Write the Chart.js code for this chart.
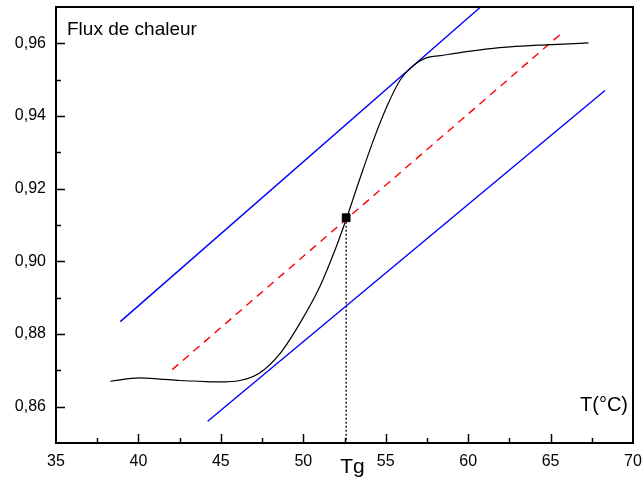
<!DOCTYPE html>
<html>
<head>
<meta charset="utf-8">
<title>DSC - Tg</title>
<script src="https://cdn.jsdelivr.net/npm/chart.js@4.4.0/dist/chart.umd.min.js"></script>
<style>
  body { margin: 0; background: #fff; }
</style>
</head>
<body>
<canvas id="dsc" width="644" height="480"></canvas>
<script>
// DSC curve around the glass transition
var tempC = [38.3, 40.1, 41.3, 42.5, 43.7, 44.9, 46.15, 47.35, 48.6, 49.8, 51.0, 52.0, 52.65, 53.4, 54.25, 55.05, 55.85, 56.65, 57.45, 58.3, 59.9, 61.9, 64.75, 67.3];
var heatFlow = [0.8670, 0.8679, 0.8676, 0.8672, 0.8670, 0.8668, 0.8672, 0.8693, 0.8747, 0.8830, 0.8930, 0.9040, 0.9122, 0.9223, 0.9333, 0.9424, 0.9497, 0.9538, 0.9560, 0.9566, 0.9577, 0.9588, 0.9596, 0.9601];

// tangent lines (start / end)
var upperX = [38.9, 60.7];
var upperY = [0.8834, 0.9698];
var lowerX = [44.2, 68.3];
var lowerY = [0.8560, 0.9470];
var midX = [42.05, 65.6];
var midY = [0.8702, 0.9625];

// glass transition point
var tgX = 52.6;
var tgY = 0.912;

var xMin = 35, xMax = 70, xStep = 2.5;
var yMin = 0.85, yMax = 0.97, yStep = 0.01;

var FONT = "'Liberation Sans', Arial, sans-serif";

function toPoints(xs, ys) {
    var pts = [];
    for (var i = 0; i < xs.length; i++) {
        pts.push({x: xs[i], y: ys[i]});
    }
    return pts;
}

// frame, inward ticks and the free text labels
var decorations = {
    id: 'decorations',
    beforeDatasetsDraw: function (chart) {
        var ctx = chart.ctx;
        var area = chart.chartArea;
        var sx = chart.scales.x;
        var sy = chart.scales.y;
        ctx.save();
        ctx.strokeStyle = '#000';
        ctx.lineWidth = 2;
        ctx.beginPath();
        ctx.moveTo(area.left, area.top);
        ctx.lineTo(area.right, area.top);
        ctx.lineTo(area.right, area.bottom);
        ctx.stroke();

        ctx.lineWidth = 1.5;
        ctx.beginPath();
        sx.ticks.forEach(function (t) {
            if (t.value <= xMin || t.value >= xMax) return;
            var px = Math.round(sx.getPixelForValue(t.value)) + 0.5;
            var len = (t.value % 5 === 0) ? 9 : 5;
            ctx.moveTo(px, area.bottom);
            ctx.lineTo(px, area.bottom - len);
        });
        sy.ticks.forEach(function (t) {
            var c = Math.round(t.value * 100);
            if (c <= 85 || c >= 97) return;
            var py = Math.round(sy.getPixelForValue(t.value)) + 0.5;
            var len = (c % 2 === 0) ? 9 : 5;
            ctx.moveTo(area.left, py);
            ctx.lineTo(area.left + len, py);
        });
        ctx.stroke();
        ctx.restore();
    },
    afterDraw: function (chart) {
        var ctx = chart.ctx;
        var area = chart.chartArea;
        var sx = chart.scales.x;
        ctx.save();
        ctx.fillStyle = '#000';
        ctx.textBaseline = 'alphabetic';

        ctx.font = '19px ' + FONT;
        ctx.textAlign = 'left';
        ctx.fillText('Flux de chaleur', area.left + 11, 35);

        ctx.font = '20px ' + FONT;
        ctx.textAlign = 'right';
        ctx.fillText('T(°C)', area.right - 5, 411);

        ctx.font = '21px ' + FONT;
        ctx.textAlign = 'left';
        ctx.fillText('Tg', sx.getPixelForValue(tgX) - 6, 473);
        ctx.restore();
    }
};

var ctx = document.getElementById('dsc').getContext('2d');

new Chart(ctx, {
    type: 'scatter',
    data: {
        datasets: [
            {
                label: 'Tg',
                data: [{x: tgX, y: tgY}],
                pointStyle: 'rect',
                pointRadius: 5.5,
                backgroundColor: '#000',
                borderColor: '#000',
                borderWidth: 1
            },
            {
                label: 'curve',
                data: toPoints(tempC, heatFlow),
                showLine: true,
                borderColor: '#000',
                borderWidth: 1.2,
                pointRadius: 0,
                cubicInterpolationMode: 'monotone'
            },
            {
                label: 'Tg drop',
                data: toPoints([tgX, tgX], [tgY, yMin]),
                showLine: true,
                borderColor: '#000',
                borderWidth: 1.3,
                borderDash: [2, 2],
                pointRadius: 0
            },
            {
                label: 'mid',
                data: toPoints(midX, midY),
                showLine: true,
                borderColor: '#ff0000',
                borderWidth: 1.4,
                borderDash: [8, 6],
                pointRadius: 0
            },
            {
                label: 'upper',
                data: toPoints(upperX, upperY),
                showLine: true,
                borderColor: '#0000ff',
                borderWidth: 1.4,
                pointRadius: 0
            },
            {
                label: 'lower',
                data: toPoints(lowerX, lowerY),
                showLine: true,
                borderColor: '#0000ff',
                borderWidth: 1.4,
                pointRadius: 0
            }
        ]
    },
    options: {
        responsive: false,
        devicePixelRatio: 1,
        animation: false,
        layout: {padding: {top: 7, right: 11, bottom: 0, left: 0}},
        plugins: {
            legend: {display: false},
            tooltip: {enabled: false}
        },
        scales: {
            x: {
                type: 'linear',
                min: xMin,
                max: xMax,
                grid: {display: false, drawTicks: false},
                border: {display: true, color: '#000', width: 2},
                ticks: {
                    stepSize: xStep,
                    autoSkip: false,
                    maxRotation: 0,
                    padding: 9,
                    color: '#000',
                    font: {family: FONT, size: 16},
                    callback: function (v) {
                        return v % 5 === 0 ? String(v) : '';
                    }
                },
                afterFit: function (scale) {
                    scale.height = 37;
                    scale.paddingLeft = 0;
                    scale.paddingRight = 0;
                }
            },
            y: {
                type: 'linear',
                min: yMin,
                max: yMax,
                grid: {display: false, drawTicks: false},
                border: {display: true, color: '#000', width: 2},
                ticks: {
                    stepSize: yStep,
                    autoSkip: false,
                    padding: 10,
                    color: '#000',
                    font: {family: FONT, size: 16},
                    callback: function (v) {
                        var c = Math.round(v * 100);
                        if (c % 2 !== 0 || c < 86 || c > 96) return '';
                        return (c / 100).toFixed(2).replace('.', ',');
                    }
                },
                afterFit: function (scale) {
                    scale.width = 56;
                    scale.paddingTop = 0;
                    scale.paddingBottom = 0;
                }
            }
        }
    },
    plugins: [decorations]
});
</script>
</body>
</html>
